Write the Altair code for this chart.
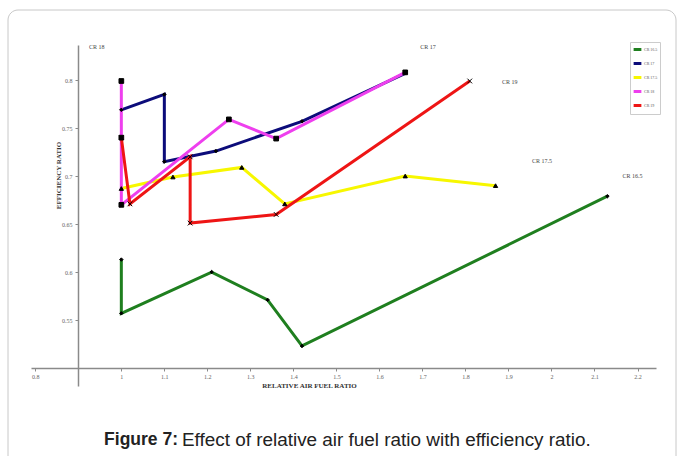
import altair as alt
import pandas as pd

# Efficiency ratio vs relative air fuel ratio, one series per compression ratio
series_names = ["CR 16.5", "CR 17", "CR 17.5", "CR 18", "CR 19"]
series_colors = ["#1f7f1f", "#0c0c7a", "#f7f700", "#ee3fee", "#ee1515"]
series_shapes = ["diamond", "diamond", "triangle-up", "square", "M-1,-1L1,1M-1,1L1,-1"]
series_marker_sizes = [12, 12, 18, 22, 22]

cr165_x = [1.0, 1.0, 1.21, 1.34, 1.42, 2.13]
cr165_y = [0.613, 0.557, 0.600, 0.571, 0.523, 0.679]

cr17_x = [1.0, 1.10, 1.10, 1.22, 1.42, 1.66]
cr17_y = [0.769, 0.785, 0.715, 0.726, 0.757, 0.807]

cr175_x = [1.0, 1.12, 1.28, 1.38, 1.66, 1.87]
cr175_y = [0.687, 0.699, 0.709, 0.671, 0.700, 0.690]

cr18_x = [1.0, 1.0, 1.0, 1.25, 1.36, 1.66]
cr18_y = [0.799, 0.740, 0.670, 0.759, 0.739, 0.808]

cr19_x = [1.0, 1.02, 1.16, 1.16, 1.36, 1.81]
cr19_y = [0.740, 0.671, 0.720, 0.651, 0.660, 0.799]

x_ticks = [0.8, 1.0, 1.1, 1.2, 1.3, 1.4, 1.5, 1.6, 1.7, 1.8, 1.9, 2.0, 2.1, 2.2]
y_ticks = [0.55, 0.6, 0.65, 0.7, 0.75, 0.8]

# Curve labels placed next to each series
label_text = ["CR 18", "CR 17", "CR 19", "CR 17.5", "CR 16.5"]
label_x = [0.925, 1.695, 1.885, 1.955, 2.165]
label_y = [0.834, 0.834, 0.798, 0.716, 0.700]

rows = []
for name, xs, ys in zip(series_names,
                        [cr165_x, cr17_x, cr175_x, cr18_x, cr19_x],
                        [cr165_y, cr17_y, cr175_y, cr18_y, cr19_y]):
    for i, (xv, yv) in enumerate(zip(xs, ys)):
        rows.append({"series": name, "idx": i, "afr": xv, "eff": yv})
df = pd.DataFrame(rows)
labels_df = pd.DataFrame({"label": label_text, "afr": label_x, "eff": label_y})

W, H = 625, 341
xscale = alt.Scale(domain=[0.79, 2.243], nice=False, zero=False)
yscale = alt.Scale(domain=[0.4813, 0.8365], nice=False, zero=False)

serif = "Liberation Serif"
axis_common = dict(
    grid=False, domainColor="#8a8a8a", domainWidth=1.5, tickColor="#8a8a8a",
    tickSize=3, labelFont=serif, labelFontSize=6, labelColor="#666666",
    titleFont=serif, titleFontSize=7, titleFontWeight="bold", titleColor="#333333",
)

x_axis = alt.Axis(values=x_ticks, format=".2~f", offset=-18, labelPadding=2,
                  title="RELATIVE AIR FUEL RATIO", titleX=278, titleY=17,
                  titleAlign="center", titleBaseline="middle", **axis_common)
y_axis = alt.Axis(values=y_ticks, format=".2~f", offset=-47, labelPadding=3,
                  title="EFFICIENCY RATIO", titleX=-20, titleY=130,
                  titleAlign="center", titleBaseline="middle", **axis_common)

color = alt.Color("series:N", sort=series_names,
                  scale=alt.Scale(domain=series_names, range=series_colors),
                  legend=alt.Legend(title=None, orient="none", legendX=599, legendY=-3,
                                    symbolType="stroke", symbolStrokeWidth=3,
                                    symbolSize=60, labelFontSize=4, labelFont=serif,
                                    labelColor="#555555", rowPadding=1, padding=2,
                                    labelOffset=1, strokeColor="#cccccc", labelLimit=40))

base = alt.Chart(df)

lines = base.mark_line(strokeWidth=3).encode(
    x=alt.X("afr:Q", scale=xscale, axis=x_axis),
    y=alt.Y("eff:Q", scale=yscale, axis=y_axis),
    color=color,
    order="idx:Q",
    detail="series:N",
)

# Black markers, one layer per series so each gets its own symbol
marker_layers = [
    base.transform_filter(alt.datum.series == name).mark_point(
        shape=shape, size=msize, filled=True, fill="black", stroke="black",
        strokeWidth=1, opacity=1,
    ).encode(x="afr:Q", y="eff:Q")
    for name, shape, msize in zip(series_names, series_shapes, series_marker_sizes)
]

curve_labels = alt.Chart(labels_df).mark_text(
    font=serif, fontSize=6, fill="#444444", align="left", baseline="middle"
).encode(x="afr:Q", y="eff:Q", text="label:N")

one = pd.DataFrame({"k": [0]})
frame = alt.Chart(one).mark_rect(filled=False, stroke="#c8c8c8", strokeWidth=1,
                                 cornerRadius=10).encode(
    x=alt.value(-23), x2=alt.value(645), y=alt.value(-35), y2=alt.value(430))

cap_bold = alt.Chart(one).mark_text(
    text="Figure 7:", font="Liberation Sans", fontSize=17.5, fontWeight="bold",
    fill="#222222", align="right", baseline="middle"
).encode(x=alt.value(147), y=alt.value(395))
cap_rest = alt.Chart(one).mark_text(
    text="Effect of relative air fuel ratio with efficiency ratio.",
    font="Liberation Sans", fontSize=18.9, fill="#222222", align="left", baseline="middle"
).encode(x=alt.value(151), y=alt.value(395))

chart = alt.layer(frame, lines, *marker_layers, curve_labels, cap_bold, cap_rest).properties(
    width=W, height=H,
    background="white",
    autosize=alt.AutoSizeParams(type="none"),
    padding={"left": 31, "top": 45, "right": 27, "bottom": 70},
).configure_view(stroke=None)

chart.save("out.html", embed_options={"renderer": "svg", "actions": False})
